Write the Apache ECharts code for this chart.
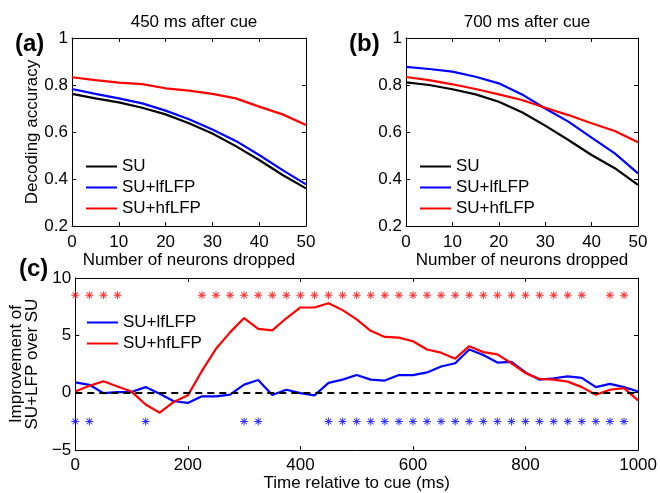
<!DOCTYPE html>
<html>
<head>
<meta charset="utf-8">
<script src="https://cdn.jsdelivr.net/npm/echarts@6/dist/echarts.min.js"></script>
<style>
html,body{margin:0;padding:0;background:#fff;}
#chart{width:660px;height:493px;}
</style>
</head>
<body>
<div id="chart"></div>
<script>
// ---------- data ----------
const neuronsDropped = [0, 5, 10, 15, 20, 25, 30, 35, 40, 45, 50];
// panel (a): 450 ms after cue
const suA   = [0.762, 0.743, 0.726, 0.703, 0.675, 0.637, 0.594, 0.540, 0.481, 0.417, 0.360];
const lfA   = [0.783, 0.762, 0.743, 0.722, 0.691, 0.654, 0.611, 0.562, 0.502, 0.438, 0.377];
const hfA   = [0.833, 0.821, 0.810, 0.804, 0.786, 0.776, 0.762, 0.743, 0.708, 0.675, 0.630];
// panel (b): 700 ms after cue
const suB   = [0.811, 0.800, 0.782, 0.760, 0.729, 0.684, 0.627, 0.566, 0.502, 0.446, 0.375];
const lfB   = [0.877, 0.868, 0.857, 0.835, 0.807, 0.760, 0.700, 0.644, 0.576, 0.509, 0.424];
const hfB   = [0.834, 0.821, 0.803, 0.783, 0.760, 0.736, 0.703, 0.672, 0.637, 0.604, 0.556];
// panel (c): improvement over SU (%)
const timeMs = [0, 25, 50, 75, 100, 125, 150, 175, 200, 225, 250, 275, 300, 325, 350, 375, 400,
  425, 450, 475, 500, 525, 550, 575, 600, 625, 650, 675, 700, 725, 750, 775, 800, 825, 850,
  875, 900, 925, 950, 975, 1000];
const lfC = [0.91, 0.69, -0.03, 0.06, 0.06, 0.49, -0.09, -0.74, -0.89, -0.31, -0.31, -0.17, 0.71,
  1.11, -0.20, 0.26, -0.03, -0.23, 0.86, 1.14, 1.54, 1.14, 1.06, 1.54, 1.54, 1.77, 2.29, 2.57,
  3.77, 3.29, 2.63, 2.69, 1.77, 1.14, 1.26, 1.43, 1.29, 0.49, 0.77, 0.49, 0.11];
const hfC = [0.11, 0.60, 1.00, 0.54, 0.10, -1.03, -1.74, -0.80, -0.23, 1.90, 3.83, 5.26, 6.51,
  5.57, 5.43, 6.49, 7.43, 7.43, 7.80, 7.20, 6.40, 5.40, 4.86, 4.80, 4.49, 3.77, 3.49, 2.97,
  4.06, 3.54, 3.34, 2.57, 1.71, 1.20, 1.14, 0.97, 0.49, -0.17, 0.26, 0.40, -0.66];
// significance markers
const hfSigTimes = [0, 25, 50, 75, 225, 250, 275, 300, 325, 350, 375, 400, 425, 450, 475, 500,
  525, 550, 575, 600, 625, 650, 675, 700, 725, 750, 775, 800, 825, 850, 875, 900, 950, 975];
const lfSigTimes = [0, 25, 125, 300, 325, 450, 475, 500, 525, 550, 575, 600, 625, 650, 675, 700,
  725, 750, 775, 800, 825, 850, 875, 900, 925, 950, 975];
const hfSigLevel = 8.5;
const lfSigLevel = -2.5;
const zeroLine = 0;
// axis ticks
const accTicks = { min: 0.2, max: 1, interval: 0.2 };
const neuronTicks = { min: 0, max: 50, interval: 10 };
const timeTicks = { min: 0, max: 1000, interval: 200 };
const improvTicks = { min: -5, max: 10, interval: 5 };

// ---------- styling ----------
const FONT = 'Liberation Sans, Arial, Helvetica, sans-serif';
const FS = 17;
const BLACK = '#000000', BLUE = '#0000ff', RED = '#ff0000';
const star = 'path://M4.4,0 L5.6,0 L5.6,10 L4.4,10 Z M0,4.4 L10,4.4 L10,5.6 L0,5.6 Z ' +
  'M1.08,1.92 L1.92,1.08 L8.92,8.08 L8.08,8.92 Z M8.08,1.08 L8.92,1.92 L1.92,8.92 L1.08,8.08 Z';

const grids = [
  { left: 72, top: 38, width: 234, height: 188 },
  { left: 406, top: 38, width: 232, height: 188 },
  { left: 72, top: 278, width: 567, height: 175 }
];

function fmtNum(v) {
  const s = String(Math.round(v * 1000) / 1000);
  return s.replace('-', '\u2212');
}

function mainX(gi, t, name, nameGap, margin) {
  return {
    type: 'value', gridIndex: gi, position: 'bottom',
    min: t.min, max: t.max, interval: t.interval,
    name: name, nameLocation: 'middle', nameGap: nameGap,
    nameTextStyle: { fontFamily: FONT, fontSize: FS, color: BLACK },
    axisLine: { show: true, onZero: false, lineStyle: { color: BLACK, width: 1 } },
    axisTick: { show: true, inside: true, length: 4, lineStyle: { color: BLACK } },
    axisLabel: { show: true, margin: margin, fontFamily: FONT, fontSize: FS, color: BLACK, formatter: fmtNum },
    splitLine: { show: false }
  };
}
function boxX(gi, t) {
  return {
    type: 'value', gridIndex: gi, position: 'top',
    min: t.min, max: t.max, interval: t.interval,
    axisLine: { show: true, onZero: false, lineStyle: { color: BLACK, width: 1 } },
    axisTick: { show: true, inside: true, length: 4, lineStyle: { color: BLACK } },
    axisLabel: { show: false }, splitLine: { show: false }
  };
}
function mainY(gi, t, name, nameGap, showLabel) {
  return {
    type: 'value', gridIndex: gi, position: 'left',
    min: t.min, max: t.max, interval: t.interval,
    name: name, nameLocation: 'middle', nameGap: nameGap, nameRotate: 90,
    nameTextStyle: { fontFamily: FONT, fontSize: FS, color: BLACK, lineHeight: 16 },
    axisLine: { show: true, onZero: false, lineStyle: { color: BLACK, width: 1 } },
    axisTick: { show: true, inside: true, length: 4, lineStyle: { color: BLACK } },
    axisLabel: { show: showLabel, margin: 4, fontFamily: FONT, fontSize: FS, color: BLACK, formatter: fmtNum },
    splitLine: { show: false }
  };
}
function boxY(gi, t) {
  return {
    type: 'value', gridIndex: gi, position: 'right',
    min: t.min, max: t.max, interval: t.interval,
    axisLine: { show: true, onZero: false, lineStyle: { color: BLACK, width: 1 } },
    axisTick: { show: true, inside: true, length: 4, lineStyle: { color: BLACK } },
    axisLabel: { show: false }, splitLine: { show: false }
  };
}

function pairs(xs, ys) { return xs.map((x, i) => [x, ys[i]]); }
function lineSeries(name, xi, yi, xs, ys, color) {
  return {
    type: 'line', name: name, xAxisIndex: xi, yAxisIndex: yi,
    data: pairs(xs, ys), symbol: 'none', smooth: false,
    lineStyle: { color: color, width: 2.2 }, itemStyle: { color: color },
    animation: false, z: 3
  };
}
function starSeries(name, xi, yi, times, level, color) {
  return {
    type: 'scatter', name: name, xAxisIndex: xi, yAxisIndex: yi,
    data: times.map(t => [t, level]), symbol: star, symbolSize: 8,
    itemStyle: { color: color }, animation: false, silent: true
  };
}
function legend(left, top, names) {
  return {
    left: left, top: top, orient: 'vertical', data: names,
    icon: 'rect', itemWidth: 31, itemHeight: 2, itemGap: 0,
    textStyle: { fontFamily: FONT, fontSize: FS, color: BLACK, lineHeight: 21 },
    padding: 0, selectedMode: false
  };
}
function panelTitle(text, left, top, bold, size) {
  return {
    text: text, left: left, top: top, textAlign: bold ? 'left' : 'center',
    textStyle: { fontFamily: FONT, fontSize: size, fontWeight: bold ? 'bold' : 'normal', color: BLACK }
  };
}

const zeroSeries = {
  type: 'line', name: 'zero', xAxisIndex: 4, yAxisIndex: 4, data: [], symbol: 'none',
  markLine: {
    silent: true, symbol: 'none', label: { show: false },
    lineStyle: { color: BLACK, type: [7, 5], width: 2 },
    data: [{ yAxis: zeroLine }]
  },
  animation: false, z: 2
};

const option = {
  backgroundColor: '#ffffff',
  animation: false,
  title: [
    panelTitle('450 ms after cue', 189, 9, false, FS),
    panelTitle('700 ms after cue', 522, 9, false, FS),
    panelTitle('(a)', 10, 27, true, 24),
    panelTitle('(b)', 344, 27, true, 24),
    panelTitle('(c)', 14, 252, true, 24)
  ],
  grid: grids,
  xAxis: [
    mainX(0, neuronTicks, 'Number of neurons dropped', 25, 8), boxX(0, neuronTicks),
    mainX(1, neuronTicks, 'Number of neurons dropped', 25, 8), boxX(1, neuronTicks),
    mainX(2, timeTicks, 'Time relative to cue (ms)', 21, 7), boxX(2, timeTicks)
  ],
  yAxis: [
    mainY(0, accTicks, 'Decoding accuracy', 32, true), boxY(0, accTicks),
    mainY(1, accTicks, '', 32, true), boxY(1, accTicks),
    mainY(2, improvTicks, 'Improvement of\nSU+LFP over SU', 25, true), boxY(2, improvTicks)
  ],
  legend: [
    legend(86, 156, ['SU', 'SU+lfLFP', 'SU+hfLFP']),
    legend(420, 156, ['SU', 'SU+lfLFP', 'SU+hfLFP']),
    legend(87, 312, ['SU+lfLFP', 'SU+hfLFP'])
  ],
  series: [
    lineSeries('SU', 0, 0, neuronsDropped, suA, BLACK),
    lineSeries('SU+lfLFP', 0, 0, neuronsDropped, lfA, BLUE),
    lineSeries('SU+hfLFP', 0, 0, neuronsDropped, hfA, RED),
    lineSeries('SU', 2, 2, neuronsDropped, suB, BLACK),
    lineSeries('SU+lfLFP', 2, 2, neuronsDropped, lfB, BLUE),
    lineSeries('SU+hfLFP', 2, 2, neuronsDropped, hfB, RED),
    zeroSeries,
    lineSeries('SU+lfLFP', 4, 4, timeMs, lfC, BLUE),
    lineSeries('SU+hfLFP', 4, 4, timeMs, hfC, RED),
    starSeries('hf significant', 4, 4, hfSigTimes, hfSigLevel, RED),
    starSeries('lf significant', 4, 4, lfSigTimes, lfSigLevel, BLUE)
  ]
};

const chart = echarts.init(document.getElementById('chart'), null, { renderer: 'canvas' });
chart.setOption(option);
</script>
</body>
</html>
